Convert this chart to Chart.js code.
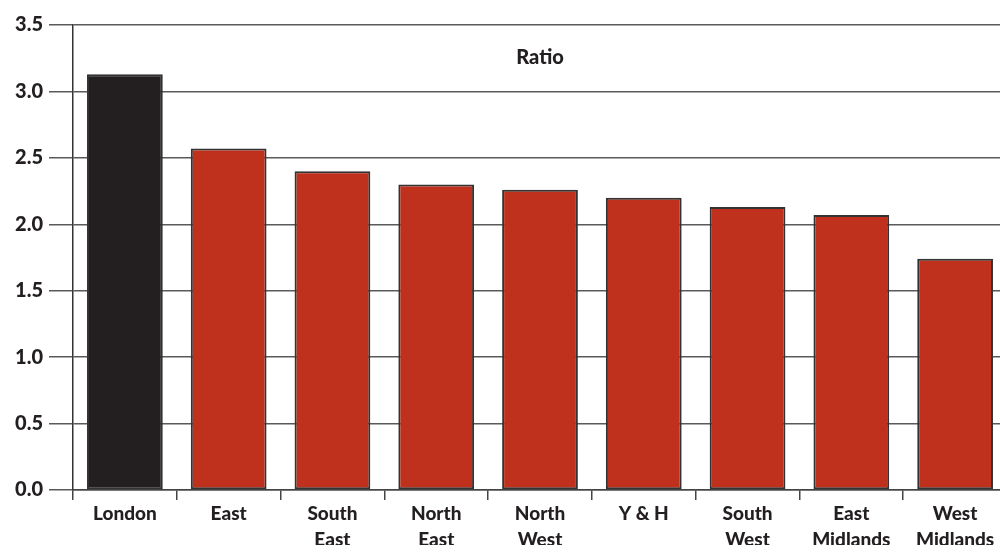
<!DOCTYPE html>
<html>
<head>
<meta charset="utf-8">
<script src="https://cdn.jsdelivr.net/npm/chart.js@4/dist/chart.umd.min.js"></script>
<style>
  html, body { margin: 0; padding: 0; background: #fff; overflow: hidden; }
  #wrap { width: 1010px; height: 545px; }
</style>
</head>
<body>
<div id="wrap"><canvas id="c" width="1010" height="545"></canvas></div>
<script>
// Regions (two-line labels) and their ratio values
const regions = [
  ['London'], ['East'], ['South', 'East'], ['North', 'East'], ['North', 'West'],
  ['Y & H'], ['South', 'West'], ['East', 'Midlands'], ['West', 'Midlands']
];
const ratios = [3.13, 2.57, 2.40, 2.30, 2.26, 2.20, 2.13, 2.07, 1.74];
const yTicks = [0, 0.5, 1.0, 1.5, 2.0, 2.5, 3.0, 3.5];
const panelTitle = 'Ratio';

const INK = '#231f20';
const RED = '#bf311c';
const FONT = 'Lato, "Open Sans", sans-serif';

// London highlighted in near-black, all other regions in red
const barColors = regions.map((r, i) => i === 0 ? INK : RED);

const titleInside = {
  id: 'titleInside',
  afterDraw(chart) {
    const { ctx, chartArea } = chart;
    ctx.save();
    ctx.font = '900 20px ' + FONT;
    ctx.fillStyle = INK;
    ctx.textAlign = 'center';
    ctx.textBaseline = 'middle';
    ctx.fillText(panelTitle, (chartArea.left + chartArea.right) / 2, chartArea.top + 33);
    ctx.restore();
  }
};

new Chart(document.getElementById('c'), {
  type: 'bar',
  data: {
    labels: regions,
    datasets: [{
      data: ratios,
      backgroundColor: barColors,
      borderColor: '#333',
      borderWidth: 2,
      borderSkipped: false,
      barPercentage: 0.73,
      categoryPercentage: 1.0
    }]
  },
  options: {
    responsive: false,
    animation: false,
    layout: { padding: { top: 25, right: 3, left: 0, bottom: 0 } },
    plugins: { legend: { display: false }, tooltip: { enabled: false } },
    scales: {
      x: {
        offset: true,
        grid: {
          offset: true,
          drawOnChartArea: false,
          drawTicks: true,
          tickLength: 10,
          color: '#444',
          lineWidth: 1.5
        },
        border: { display: true, color: '#444', width: 1.5 },
        ticks: {
          color: INK,
          font: { family: FONT, size: 19, weight: '900', lineHeight: 1.35 },
          padding: 1,
          maxRotation: 0,
          autoSkip: false
        },
        afterFit(scale) { scale.height = 55; }
      },
      y: {
        min: 0,
        max: 3.5,
        afterBuildTicks(scale) { scale.ticks = yTicks.map(v => ({ value: v })); },
        grid: {
          color: '#5a5a5a',
          lineWidth: 1.5,
          drawTicks: true,
          tickLength: 24,
          tickColor: '#5a5a5a'
        },
        border: { display: true, color: '#333', width: 1.5 },
        ticks: {
          color: INK,
          font: { family: FONT, size: 20, weight: '900' },
          padding: 6,
          callback: v => v.toFixed(1)
        },
        afterFit(scale) { scale.width = 73; }
      }
    }
  },
  plugins: [titleInside]
});
</script>
</body>
</html>
